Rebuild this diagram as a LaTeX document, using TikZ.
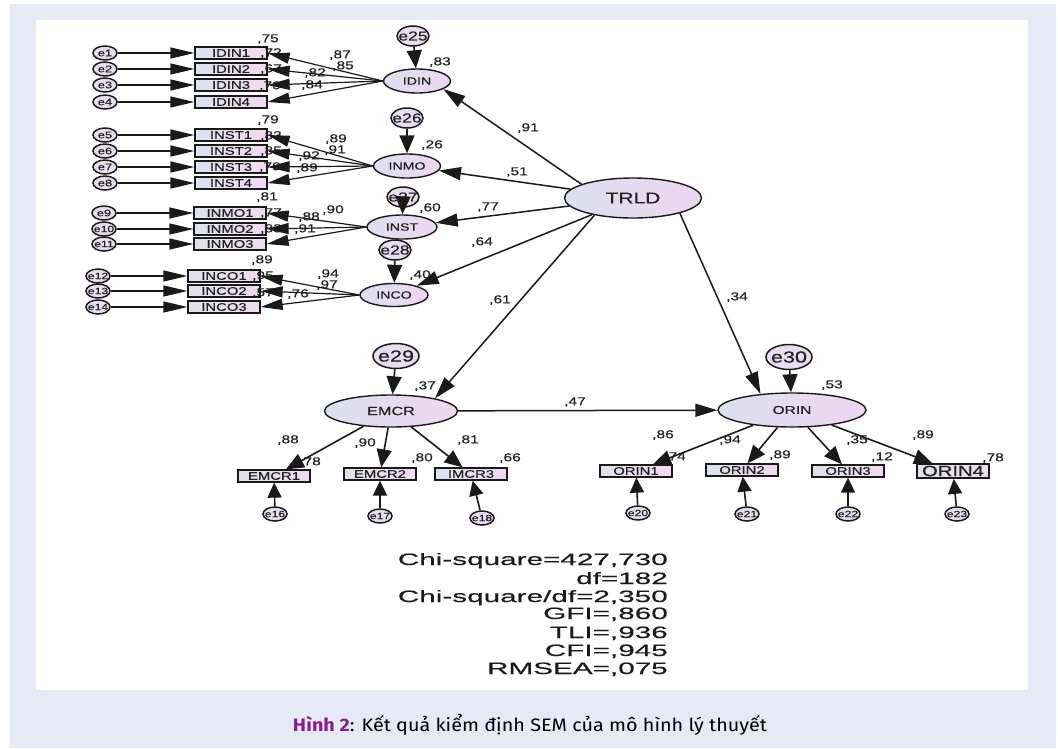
\documentclass[tikz,border=0pt]{standalone}
\usepackage{fontspec}
\usetikzlibrary{shapes.geometric,arrows.meta}
\newfontfamily\amos[FakeStretch=1.35,FakeBold=0.5]{Liberation Sans}
\newfontfamily\amoswide[FakeStretch=1.8,FakeBold=0.4]{Liberation Sans}
\newfontfamily\capfont[FakeStretch=1.1]{Fira Sans}
\definecolor{pagebg}{HTML}{E6EAF5}
\definecolor{latL}{HTML}{DCE0EE}
\definecolor{latR}{HTML}{EED6F0}
\definecolor{boxL}{HTML}{DDE2EC}
\definecolor{boxR}{HTML}{F1DAF1}
\definecolor{errF}{HTML}{E8DDF0}
\definecolor{ink}{HTML}{1A1A1A}
\definecolor{txt}{HTML}{222222}
\definecolor{capPurple}{HTML}{8E1B8E}
\newcommand{\fs}[1]{\fontsize{#1}{#1}\selectfont}
\tikzset{
  lat/.style={ellipse, draw=ink, line width=1.4pt, left color=latL, right color=latR,
    inner sep=0pt, text=txt},
  ind/.style={rectangle, draw=ink, line width=1.3pt, left color=boxL, right color=boxR,
    minimum width=72pt, minimum height=12pt, inner sep=0pt, text=txt, font=\amos\fs{11}},
  errs/.style={ellipse, draw=ink, line width=1.5pt, fill=errF, inner sep=0pt,
    minimum width=24pt, minimum height=14pt, text=txt, font=\amos\fs{9.5}},
  errm/.style={ellipse, draw=ink, line width=1.5pt, fill=errF, inner sep=0pt,
    minimum width=32pt, minimum height=20pt, text=txt, font=\amos\fs{13}},
  errl/.style={ellipse, draw=ink, line width=1.5pt, fill=errF, inner sep=0pt,
    minimum width=46pt, minimum height=25pt, text=txt, font=\amos\fs{16}},
  num/.style={inner sep=0pt, text=txt, font=\amos\fs{11.5}},
  stat/.style={inner sep=0pt, anchor=base east, text=ink, font=\amoswide\fs{16.5}},
  arrE/.style={draw=ink, line width=1.3pt, -{Triangle[length=24pt,width=11pt]}},
  arrL/.style={draw=ink, line width=1.2pt, -{Triangle[length=22pt,width=11pt]}},
  arrT/.style={draw=ink, line width=1.5pt, -{Triangle[length=22pt,width=13pt]}},
  arrV/.style={draw=ink, line width=1.6pt, -{Triangle[length=18pt,width=15pt]}},
  arrB/.style={draw=ink, line width=1.6pt, -{Triangle[length=15pt,width=14pt]}},
}
\begin{document}
\begin{tikzpicture}[x=1pt,y=-1pt]
\useasboundingbox (0,0) rectangle (1058,748);
% page background and white panel
\fill[pagebg] (10,4) rectangle (1056,748);
\fill[white] (36,20) rectangle (1028,690);

% ---------- latent variables ----------
\node[lat, minimum width=67pt, minimum height=24pt, font=\amos\fs{10.5}] (IDIN) at (417,81) {IDIN};
\node[lat, minimum width=67pt, minimum height=24pt, font=\amos\fs{10.5}] (INMO) at (407,166) {INMO};
\node[lat, minimum width=70pt, minimum height=24pt, font=\amos\fs{10.5}] (INST) at (402,227) {INST};
\node[lat, minimum width=68pt, minimum height=23pt, font=\amos\fs{10.5}] (INCO) at (394,295) {INCO};
\node[lat, minimum width=137pt, minimum height=40pt, font=\amos\fs{15.5}] (TRLD) at (633,198) {TRLD};
\node[lat, minimum width=133pt, minimum height=32pt, font=\amos\fs{12}] (EMCR) at (391,411) {EMCR};
\node[lat, minimum width=148pt, minimum height=34pt, font=\amos\fs{11.5}] (ORIN) at (792,410) {ORIN};

% ---------- structural errors ----------
\node[errm] (e25) at (413,36) {\makebox[0pt]{e25}};
\node[errm] (e26) at (407,118) {\makebox[0pt]{e26}};
\node[errm] (e27) at (403,197) {\makebox[0pt]{e27}};
\node[errm] (e28) at (395,250) {\makebox[0pt]{e28}};
\node[errl] (e29) at (396,356) {\makebox[0pt]{e29}};
\node[errl] (e30) at (789,357) {\makebox[0pt]{e30}};

% ---------- indicators: IDIN ----------
\node[ind] (IDIN1) at (231,53) {IDIN1};
\node[ind] (IDIN2) at (231,69) {IDIN2};
\node[ind] (IDIN3) at (231,85) {IDIN3};
\node[ind] (IDIN4) at (231,102) {IDIN4};
\node[errs] (e1) at (105,53) {\makebox[0pt]{e1}};
\node[errs] (e2) at (105,69) {\makebox[0pt]{e2}};
\node[errs] (e3) at (105,85) {\makebox[0pt]{e3}};
\node[errs] (e4) at (105,102) {\makebox[0pt]{e4}};

% ---------- indicators: INMO ----------
\node[ind] (INST1) at (231,135) {INST1};
\node[ind] (INST2) at (231,151) {INST2};
\node[ind] (INST3) at (231,167) {INST3};
\node[ind] (INST4) at (231,183) {INST4};
\node[errs] (e5) at (105,135) {\makebox[0pt]{e5}};
\node[errs] (e6) at (105,151) {\makebox[0pt]{e6}};
\node[errs] (e7) at (105,167) {\makebox[0pt]{e7}};
\node[errs] (e8) at (105,183) {\makebox[0pt]{e8}};

% ---------- indicators: INST ----------
\node[ind] (INMO1) at (230,213) {INMO1};
\node[ind] (INMO2) at (230,229) {INMO2};
\node[ind] (INMO3) at (230,244) {INMO3};
\node[errs] (e9) at (104,213) {\makebox[0pt]{e9}};
\node[errs, font=\amos\fs{9}] (e10) at (104,229) {\makebox[0pt]{e10}};
\node[errs, font=\amos\fs{9}] (e11) at (104,244) {\makebox[0pt]{e11}};

% ---------- indicators: INCO ----------
\node[ind] (INCO1) at (224,276) {INCO1};
\node[ind] (INCO2) at (224,291) {INCO2};
\node[ind] (INCO3) at (224,307) {INCO3};
\node[errs, font=\amos\fs{9}] (e12) at (98,276) {\makebox[0pt]{e12}};
\node[errs, font=\amos\fs{9}] (e13) at (98,291) {\makebox[0pt]{e13}};
\node[errs, font=\amos\fs{9}] (e14) at (98,307) {\makebox[0pt]{e14}};

% ---------- indicators: EMCR ----------
\node[ind] (EMCR1) at (274,476) {EMCR1};
\node[ind] (EMCR2) at (380,474) {EMCR2};
\node[ind] (IMCR3) at (471,474) {IMCR3};
\node[errs, font=\amos\fs{9}] (e16) at (275,514) {\makebox[0pt]{e16}};
\node[errs, font=\amos\fs{9}] (e17) at (380,516) {\makebox[0pt]{e17}};
\node[errs, font=\amos\fs{9}] (e18) at (482,518) {\makebox[0pt]{e18}};

% ---------- indicators: ORIN ----------
\node[ind] (ORIN1) at (636,471) {ORIN1};
\node[ind] (ORIN2) at (742,470) {ORIN2};
\node[ind] (ORIN3) at (848,471) {ORIN3};
\node[ind, line width=1.8pt, minimum height=14pt, font=\amos\fs{15}] (ORIN4) at (953,471) {ORIN4};
\node[errs, font=\amos\fs{9}] (e20) at (638,513) {\makebox[0pt]{e20}};
\node[errs, font=\amos\fs{9}] (e21) at (747,514) {\makebox[0pt]{e21}};
\node[errs, font=\amos\fs{9}] (e22) at (848,514) {\makebox[0pt]{e22}};
\node[errs, font=\amos\fs{9}] (e23) at (957,514) {\makebox[0pt]{e23}};

% ---------- estimates ----------
% IDIN block
\node[num] (r1) at (268,39) {,75};
\node[num] (r2) at (271,53) {,72};
\node[num] (r3) at (271,69) {,67};
\node[num] (r4) at (270,86) {,70};
\node[num] (w1) at (340,55) {,87};
\node[num] (w2) at (343,66) {,85};
\node[num] (w3) at (315,73) {,82};
\node[num] (w4) at (312,85) {,84};
\node[num] (rIDIN) at (440,62) {,83};
% INMO block
\node[num] (r5) at (268,120) {,79};
\node[num] (r6) at (271,136) {,83};
\node[num] (r7) at (271,151) {,85};
\node[num] (r8) at (270,167) {,79};
\node[num] (w5) at (336,139) {,89};
\node[num] (w6) at (335,150) {,91};
\node[num] (w7) at (309,156) {,92};
\node[num] (w8) at (307,168) {,89};
\node[num] (rINMO) at (432,145) {,26};
% INST block
\node[num] (r9) at (267,197) {,81};
\node[num] (r10) at (271,213) {,77};
\node[num] (r11) at (271,229) {,83};
\node[num] (w9) at (333,210) {,90};
\node[num] (w10) at (309,217) {,88};
\node[num] (w11) at (305,229) {,91};
\node[num] (rINST) at (430,208) {,60};
% INCO block
\node[num] (r12) at (262,260) {,89};
\node[num] (r13) at (263,276) {,95};
\node[num] (r14) at (263,293) {,57};
\node[num] (w12) at (328,274) {,94};
\node[num] (w13) at (327,285) {,97};
\node[num] (w14) at (298,294) {,76};
\node[num] (rINCO) at (420,275) {,40};
% structural paths
\node[num] (b1) at (528,128) {,91};
\node[num] (b2) at (517,172) {,51};
\node[num] (b3) at (488,207) {,77};
\node[num] (b4) at (482,242) {,64};
\node[num] (b5) at (500,300) {,61};
\node[num] (b6) at (737,297) {,34};
\node[num] (b7) at (575,402) {,47};
% EMCR block
\node[num] (rEMCR) at (425,386) {,37};
\node[num] (w16) at (288,440) {,88};
\node[num] (w17) at (365,443) {,90};
\node[num] (w18) at (468,440) {,81};
\node[num] (r16) at (310,462) {,78};
\node[num] (r17) at (422,458) {,80};
\node[num] (r18) at (510,458) {,66};
% ORIN block
\node[num] (rORIN) at (832,385) {,53};
\node[num] (w20) at (663,435) {,86};
\node[num] (w21) at (730,440) {,94};
\node[num] (w22) at (857,440) {,35};
\node[num] (w23) at (923,435) {,89};
\node[num] (r20) at (675,457) {,74};
\node[num] (r21) at (780,455) {,89};
\node[num] (r22) at (882,457) {,12};
\node[num] (r23) at (993,458) {,78};

% ---------- measurement paths ----------
\foreach \i/\b in {e1/IDIN1,e2/IDIN2,e3/IDIN3,e4/IDIN4,e5/INST1,e6/INST2,e7/INST3,e8/INST4,
                   e9/INMO1,e10/INMO2,e11/INMO3,e12/INCO1,e13/INCO2,e14/INCO3}
  \draw[arrE] (\i) -- (\b);
\foreach \b in {IDIN1,IDIN2,IDIN3,IDIN4} \draw[arrL] (IDIN.west) -- (\b.east);
\foreach \b in {INST1,INST2,INST3,INST4} \draw[arrL] (INMO.west) -- (\b.east);
\foreach \b in {INMO1,INMO2,INMO3} \draw[arrL] (INST.west) -- (\b.east);
\foreach \b in {INCO1,INCO2,INCO3} \draw[arrL] (INCO.west) -- (\b.east);
\foreach \b in {EMCR1,EMCR2,IMCR3} \draw[arrV] (EMCR) -- (\b);
\foreach \b in {ORIN1,ORIN2,ORIN3,ORIN4} \draw[arrV] (ORIN) -- (\b);
\foreach \i/\b in {e16/EMCR1,e17/EMCR2,e18/IMCR3,e20/ORIN1,e21/ORIN2,e22/ORIN3,e23/ORIN4}
  \draw[arrB] (\i) -- (\b);

% ---------- structural paths ----------
\draw[arrT] (TRLD.165) -- (IDIN.-17);
\foreach \t in {INMO,INST,INCO} \draw[arrT] (TRLD) -- (\t);
\draw[arrT] (TRLD.204) -- (EMCR.16);
\draw[arrT] (TRLD.-18) -- (ORIN.153);
\draw[arrT] (EMCR) -- (ORIN);
\foreach \e/\t in {e25/IDIN,e26/INMO,e27/INST,e28/INCO,e29/EMCR,e30/ORIN}
  \draw[arrV] (\e) -- (\t);

% ---------- fit statistics ----------
\node[stat] (s1) at (668,565) {Chi-square=427,730};
\node[stat] (s2) at (668,584) {df=182};
\node[stat] (s3) at (668,602) {Chi-square/df=2,350};
\node[stat] (s4) at (668,619) {GFI=,860};
\node[stat] (s5) at (668,638) {TLI=,936};
\node[stat] (s6) at (668,656) {CFI=,945};
\node[stat] (s7) at (668,674) {RMSEA=,075};

% ---------- caption ----------
\node[inner sep=0pt, anchor=base, font=\capfont\fs{18}, text=black] (cap) at (530,731)
  {\textcolor{capPurple}{\bfseries Hình 2}: Kết quả kiểm định SEM của mô hình lý thuyết};
\end{tikzpicture}
\end{document}
